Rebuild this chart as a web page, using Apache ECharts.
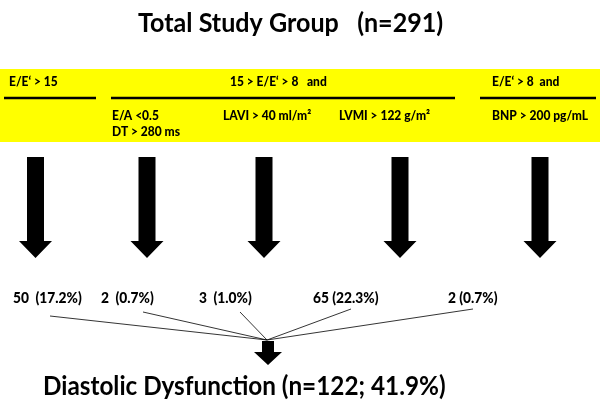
<!DOCTYPE html>
<html><head><meta charset="utf-8">
<script src="https://cdn.jsdelivr.net/npm/echarts@6/dist/echarts.min.js"></script>
<style>html,body{margin:0;padding:0;background:#fff}#c{width:600px;height:407px}</style>
</head><body><div id="c"></div>
<script>
// ---- data ----
const titleText = 'Total Study Group';
const totalN = 291;
const headerLabels = ['E/E\u2018 > 15', '15 > E/E\u2018 > 8   and', 'E/E\u2018 > 8  and'];
const criteriaLines = [[], ['E/A <0.5', 'DT > 280 ms'], ['LAVI > 40 ml/m\u00b2'], ['LVMI > 122 g/m\u00b2'], ['BNP > 200 pg/mL']];
const groupCounts = [50, 2, 3, 65, 2];
const groupPercents = [17.2, 0.7, 1.0, 22.3, 0.7];
const outcomeLabel = 'Diastolic Dysfunction';
const outcomeN = 122;
const outcomePercent = 41.9;

// ---- layout (diagram units = px of a 600x407 canvas) ----
const L = {
  font: 'Lato',
  titleX: 138, titleY: 23, titleSize: 27, titleSX: 0.93, titleW: 'bold',
  band: [0, 69, 600, 142],
  headerX: [9, 230, 492], headerY: 82, headerSize: 13.5, smallSX: 0.89, smallW: 900,
  ruleSegs: [[4, 96], [111, 455], [480, 596]], ruleY: 98,
  critX: [0, 112, 223, 339, 492], critY: [116, 132], critSize: 13.5,
  arrowX: [35.5, 147, 264, 400, 540], arrow: {top: 157, headTop: 241, tip: 258, shaft: 8.5, head: 16.5},
  countX: [13, 101, 199, 313, 448], countY: 298, countSize: 14.5, countSX: 0.95, countGap: ['  ', '  ', '  ', ' ', ' '],
  lineStart: [[50, 316], [143, 312], [240, 312], [351, 309], [473, 309]], lineEnd: [267, 340],
  outArrow: {x: 268, top: 341, headTop: 352, tip: 365, shaft: 6, head: 14},
  outX: 43, outY: 386, outSize: 27, outSX: 0.9
};

const chart = echarts.init(document.getElementById('c'), null, {renderer: 'canvas'});

function txt(api, x, y, text, size, sx, weight) {
  const p = api.coord([x, y]);
  return {type: 'text', x: p[0], y: p[1], scaleX: sx || 1,
    style: {text: text, x: 0, y: 0, fill: '#000',
      font: (weight || 'bold') + ' ' + size + 'px ' + L.font, align: 'left', verticalAlign: 'middle'}};
}
function arrowShape(api, cx, a) {
  const pts = [[cx - a.shaft, a.top], [cx + a.shaft, a.top], [cx + a.shaft, a.headTop], [cx + a.head, a.headTop],
    [cx, a.tip], [cx - a.head, a.headTop], [cx - a.shaft, a.headTop]].map(q => api.coord(q));
  return {type: 'polygon', shape: {points: pts}, style: {fill: '#000'}};
}

const option = {
  animation: false,
  grid: {left: 0, right: 0, top: 0, bottom: 0},
  xAxis: {type: 'value', min: 0, max: 600, show: false},
  yAxis: {type: 'value', min: 0, max: 407, inverse: true, show: false},
  series: [{
    type: 'custom',
    coordinateSystem: 'cartesian2d',
    data: [[0, 0]],
    silent: true,
    renderItem: function (params, api) {
      const ch = [];
      const b0 = api.coord([L.band[0], L.band[1]]), b1 = api.coord([L.band[2], L.band[3]]);
      ch.push({type: 'rect', shape: {x: b0[0], y: b0[1], width: b1[0] - b0[0], height: b1[1] - b0[1]}, style: {fill: '#FFFF00'}});
      ch.push(txt(api, L.titleX, L.titleY, titleText + '   (n=' + totalN + ')', L.titleSize, L.titleSX, L.titleW));
      headerLabels.forEach((h, i) => ch.push(txt(api, L.headerX[i], L.headerY, h, L.headerSize, L.smallSX, L.smallW)));
      L.ruleSegs.forEach(s => {
        const p0 = api.coord([s[0], L.ruleY]), p1 = api.coord([s[1], L.ruleY]);
        ch.push({type: 'line', shape: {x1: p0[0], y1: p0[1], x2: p1[0], y2: p1[1]}, style: {stroke: '#000', lineWidth: 2.5}});
      });
      criteriaLines.forEach((lines, i) => lines.forEach((t, j) => ch.push(txt(api, L.critX[i], L.critY[j], t, L.critSize, L.smallSX, L.smallW))));
      groupCounts.forEach((c, i) => ch.push(arrowShape(api, L.arrowX[i], L.arrow)));
      groupCounts.forEach((c, i) => ch.push(txt(api, L.countX[i], L.countY,
        c + L.countGap[i] + '(' + groupPercents[i].toFixed(1) + '%)', L.countSize, L.countSX, L.smallW)));
      const e = api.coord(L.lineEnd);
      L.lineStart.forEach(s => {
        const p = api.coord(s);
        ch.push({type: 'line', shape: {x1: p[0], y1: p[1], x2: e[0], y2: e[1]}, style: {stroke: '#000', lineWidth: 0.8}});
      });
      ch.push(arrowShape(api, L.outArrow.x, L.outArrow));
      ch.push(txt(api, L.outX, L.outY, outcomeLabel + ' (n=' + outcomeN + '; ' + outcomePercent.toFixed(1) + '%)', L.outSize, L.outSX, L.titleW));
      return {type: 'group', children: ch};
    }
  }]
};
chart.setOption(option);
</script></body></html>
